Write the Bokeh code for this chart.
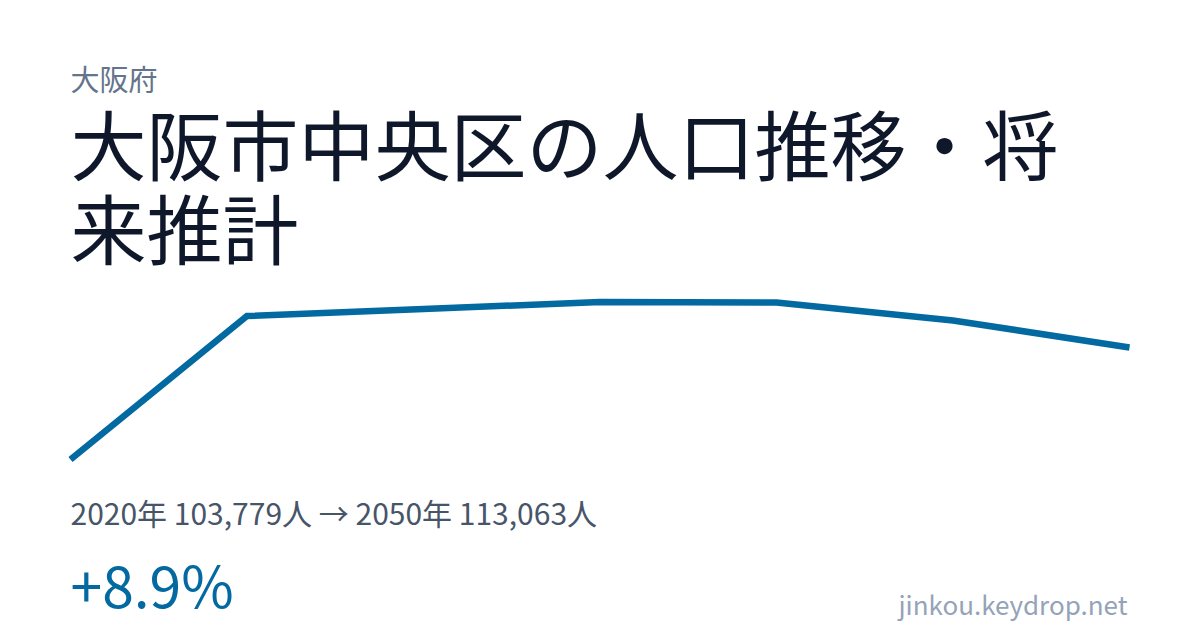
from bokeh.plotting import figure
from bokeh.models import Label, Range1d
from bokeh.embed import file_html
from bokeh.resources import INLINE

# ---- data ----
years = [2020, 2025, 2030, 2035, 2040, 2045, 2050]
population = [103779, 115670, 116250, 116830, 116790, 115300, 113063]
prefecture = "大阪府"
title_lines = ["大阪市中央区の人口推移・将", "来推計"]
site = "jinkou.keydrop.net"

summary = f"{years[0]}年 {population[0]:,}人 → {years[-1]}年 {population[-1]:,}人"
pct = (population[-1] / population[0] - 1) * 100
change = f"{pct:+.1f}%"

# ---- layout ----
W, H = 1200, 630
FONT = "Noto Sans CJK JP"
BLUE = "#0369a1"

# chart box (screen px inside frame, y measured from bottom)
box_left, box_right = 70, 1129
box_bottom, box_top = H - 459, H - 301.5

xs = (box_right - box_left) / (max(years) - min(years))
x_start = min(years) - box_left / xs
x_end = x_start + W / xs
ys = (box_top - box_bottom) / (max(population) - min(population))
y_start = min(population) - box_bottom / ys
y_end = y_start + H / ys

p = figure(width=W, height=H, output_backend="svg", toolbar_location=None,
           x_range=Range1d(x_start, x_end), y_range=Range1d(y_start, y_end),
           x_axis_location=None, y_axis_location=None, min_border=0,
           background_fill_color="white", border_fill_color="white")
p.outline_line_color = None
p.grid.visible = False

p.line(years, population, line_color=BLUE, line_width=6.5,
       line_cap="butt", line_join="miter")

def sy(ref_y):
    return H - ref_y

def add_label(text, x, ref_y, size, color, align="left"):
    p.add_layout(Label(x=x, y=sy(ref_y), x_units="screen", y_units="screen",
                       text=text, text_font=FONT, text_font_size=f"{size}px",
                       text_color=color, text_align=align,
                       text_baseline="alphabetic"))

add_label(prefecture, 70, 77.5, 29, "#64748b")
add_label(title_lines[0], 70, 141, 76, "#0f172a")
add_label(title_lines[1], 70, 225, 76, "#0f172a")
add_label(summary, 70, 511, 30, "#475569")
add_label(change, 70, 582, 57, BLUE)
add_label(site, 1127, 603, 26, "#94a3b8", align="right")

open("out.html", "w").write(file_html(p, INLINE))
